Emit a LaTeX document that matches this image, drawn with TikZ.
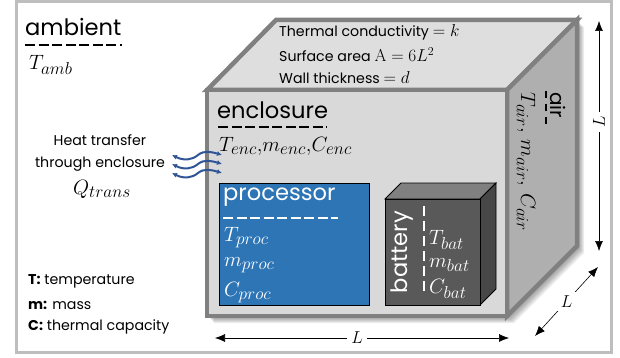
\documentclass[tikz,border=0pt]{standalone}
\usepackage[no-math]{fontspec}
\setmainfont{Poppins}
\usetikzlibrary{arrows.meta,positioning}
\DeclareMathSizes{19}{19.5}{16}{11}
\newcommand{\topmath}[1]{{\fontsize{17}{18}\selectfont$#1$}}
\definecolor{framegray}{RGB}{190,190,190}
\definecolor{wallgray}{RGB}{128,128,128}
\definecolor{frontgray}{RGB}{217,217,217}
\definecolor{topgray}{RGB}{222,222,222}
\definecolor{sidegray}{RGB}{175,175,175}
\definecolor{procblue}{RGB}{46,117,182}
\definecolor{wavyblue}{RGB}{47,85,151}
\definecolor{batfront}{RGB}{89,89,89}
\definecolor{battop}{RGB}{128,128,128}
\definecolor{batside}{RGB}{71,71,71}
\begin{document}
\begin{tikzpicture}[>={Latex[length=10pt,width=8pt]},x=1pt,y=-1pt]
  \tikzset{wall/.style={draw=wallgray,line width=4.5pt,line join=miter},
    title/.style={inner sep=0pt,font=\fontsize{22.6}{24}\selectfont},
    plain/.style={inner sep=0pt,font=\fontsize{14.2}{16}\selectfont},
    legend/.style={inner sep=0pt,anchor=west,font=\fontsize{14.2}{16}\selectfont},
    sym/.style={inner sep=0pt,font=\fontsize{19}{21}\selectfont},
    rule/.style={line width=2.5pt,dash pattern=on 10pt off 3.5pt},
    dim/.style={<->,line width=.6pt},
    dimlabel/.style={fill=white,inner sep=4pt,font=\fontsize{16}{18}\selectfont},
    heat/.style={{Latex[length=5pt,width=5pt]}-{Latex[length=5pt,width=5pt]},draw=wavyblue,
      fill=none,line width=2pt}}
  \useasboundingbox (0,0) rectangle (620,358);
  \draw[framegray,line width=3pt] (16.5,1.5) rectangle (611.5,352.5);

  % shadow
  \foreach \off in {2,3,...,7}
    \fill[black,opacity=.07] (207+\off,92+\off) -- (275+\off,20+\off) -- (577+\off,20+\off)
      -- (577+\off,246+\off) -- (507+\off,316+\off) -- (207+\off,316+\off) -- cycle;

  % enclosure faces
  \filldraw[wall,fill=topgray] (207,90) -- (276,20) -- (577,20) -- (507,90) -- cycle;
  \filldraw[wall,fill=sidegray] (507,90) -- (577,20) -- (577,246) -- (507,316) -- cycle;
  \filldraw[wall,fill=frontgray] (207,90) rectangle (507,316);

  % top face text
  \node[plain,anchor=west] (cond) at (279,32) {Thermal conductivity \topmath{=k}};
  \node[plain,anchor=west] (area) at (279,55) {Surface area \topmath{\mathrm{A}=6L^2}};
  \node[plain,anchor=west] (thick) at (279,78) {Wall thickness \topmath{=d}};

  % ambient
  \node[title,anchor=west] (ambient) at (25,27) {ambient};
  \draw[rule] (25,45) -- (122,45);
  \node[sym,anchor=west] (tamb) at (29,65) {$T_{amb}$};

  % enclosure
  \node[title,anchor=west] (enclosure) at (217,110) {enclosure};
  \draw[rule] (218,127) -- (327,127);
  \node[sym,anchor=west] (tenc) at (219,146) {$T_{enc}{,}m_{enc}{,}C_{enc}$};

  % air
  \node[title,rotate=-90,font=\fontsize{20}{22}\selectfont] (air) at (558,105) {air};
  \draw[rule,dash pattern=on 7pt off 6pt] (546,91) -- (546,126);
  \node[sym,rotate=-90,anchor=west] (tair) at (526,92) {$T_{air},\,m_{air},\,C_{air}$};

  % processor
  \node[draw=black,fill=procblue,line width=.8pt,minimum width=150pt,minimum height=122pt,
    inner sep=0pt] (proc) at (294,244) {};
  \node[title,text=white,anchor=west] (proctitle) at (223,197) {processor};
  \draw[rule,white] (223,218) -- (338,218);
  \node[sym,text=white,anchor=west] (tproc) at (224,238) {$T_{proc}$};
  \node[sym,text=white,anchor=west] (mproc) at (224,265) {$m_{proc}$};
  \node[sym,text=white,anchor=west] (cproc) at (224,293) {$C_{proc}$};

  % battery
  \filldraw[draw=black,fill=battop,line width=.8pt] (385,199) -- (401,183) -- (496,183) -- (480,199) -- cycle;
  \filldraw[draw=black,fill=batside,line width=.8pt] (480,199) -- (496,183) -- (496,289) -- (480,305) -- cycle;
  \filldraw[draw=black,fill=batfront,line width=.8pt] (385,199) rectangle (480,305);
  \node[title,text=white,rotate=90] (battery) at (402,252) {battery};
  \draw[rule,white,dash pattern=on 10pt off 5pt] (424,206) -- (424,295);
  \node[sym,text=white,anchor=west] (tbat) at (429,240) {$T_{bat}$};
  \node[sym,text=white,anchor=west] (mbat) at (429,265) {$m_{bat}$};
  \node[sym,text=white,anchor=west] (cbat) at (429,289) {$C_{bat}$};

  % heat transfer
  \node[plain] (heat) at (100,140) {Heat transfer};
  \node[plain] (through) at (100,164) {through enclosure};
  \node[sym] (qtrans) at (102,189) {$Q_{trans}$};
  \foreach \y in {155,164,173}
    \draw[heat] (172,\y) .. controls (184,\y+6) and (192,\y+5) .. (198,\y)
      .. controls (204,\y-5) and (212,\y-3) .. (222,\y);

  % legend
  \node[legend] (legt) at (28,281) {\textbf{T:} temperature};
  \node[legend] (legm) at (28,305) {\textbf{m:} mass};
  \node[legend] (legc) at (28,327) {\textbf{C:} thermal capacity};

  % dimensions
  \coordinate (hl) at (215,338);
  \coordinate (hr) at (509,338);
  \coordinate (vt) at (599,21);
  \coordinate (vb) at (599,251);
  \coordinate (dl) at (535,336);
  \coordinate (dr) at (598,267);
  \draw[dim] (hl) -- node[dimlabel,pos=.483] (lh) {$L$} (hr);
  \draw[dim] (vt) -- node[dimlabel,rotate=90,pos=.44] (lv) {$L$} (vb);
  \draw[dim] (dl) -- node[dimlabel] (ld) {$L$} (dr);
\end{tikzpicture}
\end{document}
